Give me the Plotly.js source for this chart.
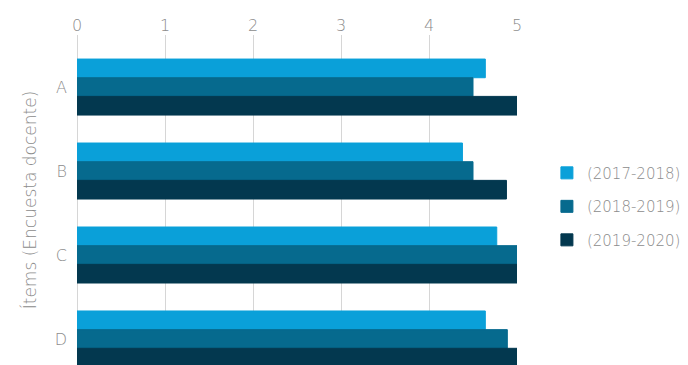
<!DOCTYPE html>
<html>
<head>
<meta charset="utf-8">
<script src="https://cdn.plot.ly/plotly-3.0.1.min.js"></script>
<style>html,body{margin:0;padding:0;background:#fff;}#chart{width:688px;height:365px;}</style>
</head>
<body>
<div id="chart"></div>
<script>
var categories = ["A", "B", "C", "D"];
var seriesNames = ["(2017-2018)", "(2018-2019)", "(2019-2020)"];
var values2017 = [4.64, 4.38, 4.77, 4.64];
var values2018 = [4.50, 4.50, 5.00, 4.89];
var values2019 = [5.00, 4.88, 5.00, 5.00];
var xTicks = [0, 1, 2, 3, 4, 5];
var colors = ["#0aa0d9", "#066a8e", "#03384f"];

var allValues = [values2017, values2018, values2019];
var traces = allValues.map(function (v, i) {
  return {
    type: "bar",
    orientation: "h",
    name: seriesNames[i],
    legendgroup: "g" + i,
    y: categories,
    x: v,
    marker: {color: colors[i], line: {color: colors[i], width: 1}},
    hoverinfo: "skip"
  };
});

var fam = "'DejaVu Sans', sans-serif";
var gray = "#8c8c8c";

var layout = {
  width: 688, height: 365,
  margin: {l: 77, r: 171, t: 35, b: 0},
  paper_bgcolor: "#fff", plot_bgcolor: "#fff",
  barmode: "group", bargap: 0.333, bargroupgap: 0,
  showlegend: true,
  legend: {
    x: 1.068, xanchor: "left", y: 0.48, yanchor: "middle",
    font: {family: fam, color: gray, size: 15, weight: 200},
    tracegroupgap: 11, itemwidth: 30,
    traceorder: "grouped"
  },
  xaxis: {
    side: "top", range: [0, 5], tickvals: xTicks, ticktext: xTicks.map(String),
    showgrid: true, gridcolor: "#d6d6d6", gridwidth: 1,
    zeroline: true, zerolinecolor: "#d6d6d6", zerolinewidth: 1,
    showline: false, ticks: "",
    tickfont: {family: fam, color: gray, size: 16, weight: 200},
    fixedrange: true
  },
  yaxis: {
    type: "category", categoryorder: "array", categoryarray: categories,
    range: [3.31, -0.62],
    showgrid: false, zeroline: false, showline: false, ticks: "",
    ticklabelstandoff: 9,
    tickfont: {family: fam, color: gray, size: 16, weight: 200},
    title: {text: "Ítems (Encuesta docente)", font: {family: fam, color: gray, size: 17, weight: 200}, standoff: 13},
    fixedrange: true
  }
};

Plotly.newPlot("chart", traces, layout, {displayModeBar: false, staticPlot: true});
</script>
</body>
</html>
